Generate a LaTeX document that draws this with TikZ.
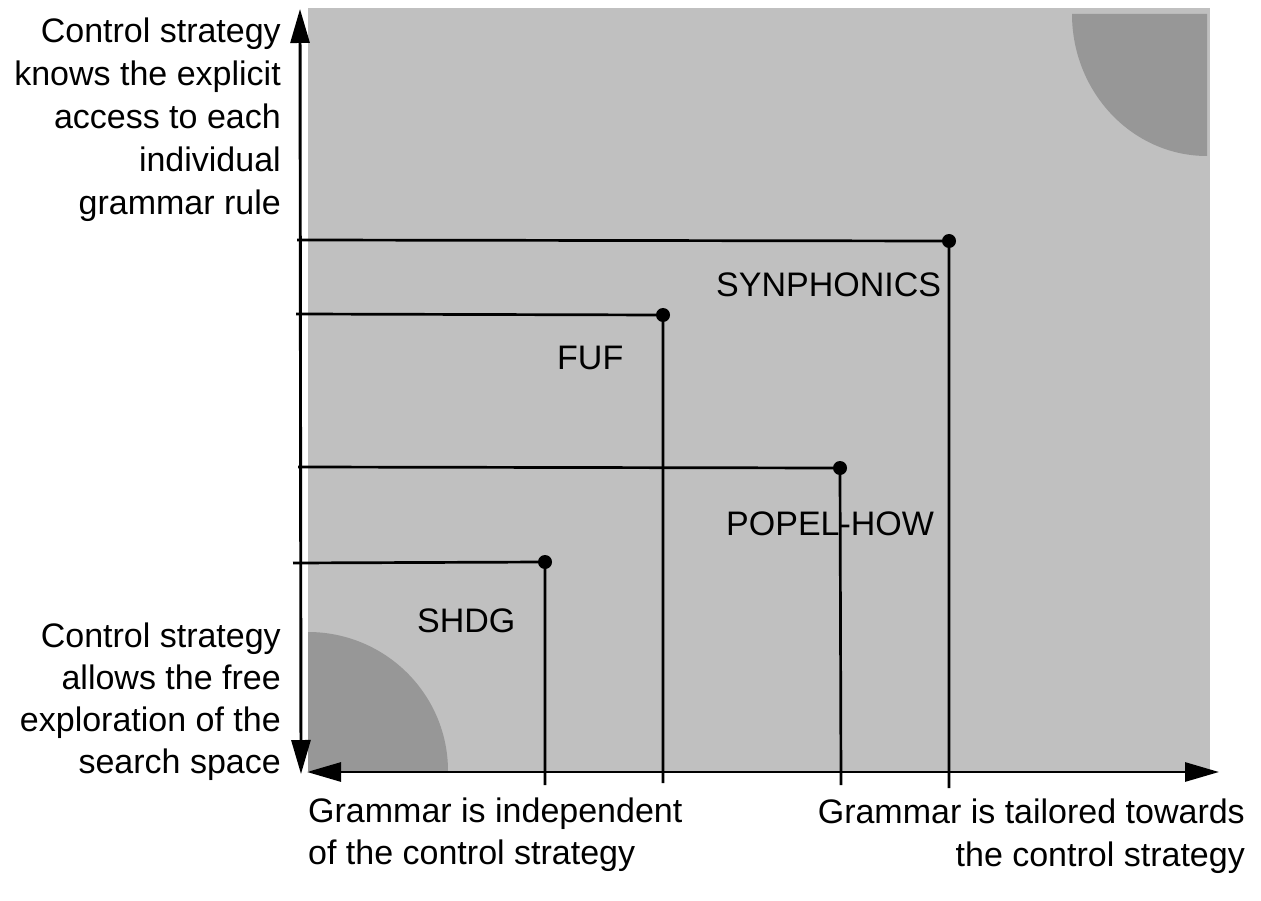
\documentclass[tikz,border=0pt]{standalone}
\usepackage{fontspec}
\setmainfont{Liberation Sans}
\usetikzlibrary{arrows.meta}
\definecolor{bglight}{RGB}{192,192,192}
\definecolor{bgdark}{RGB}{151,151,151}
\begin{document}
\begin{tikzpicture}[x=1pt,y=-1pt,
  axis/.style={line width=2.9pt},
  bothtips/.style={{Triangle[length=34pt,width=19pt]}-{Triangle[length=34pt,width=19pt]}},
  guide/.style={line width=2.7pt},
  dotmark/.style={circle,fill=black,inner sep=0pt,minimum size=14pt},
  lbl/.style={font=\fontsize{34}{43}\selectfont,inner sep=0pt},
  side/.style={font=\fontsize{34}{43}\selectfont,inner sep=0pt,align=right},
]
\useasboundingbox (0,0) rectangle (1261,901);
% background square
\fill[bglight] (308,8) rectangle (1210,771);
% dark quarter shapes
\fill[bgdark] (1207,14) -- (1072,14) arc[start angle=180,end angle=90,x radius=135,y radius=142] -- cycle;
\fill[bgdark] (308,771) -- (308,632) arc[start angle=270,end angle=360,x radius=140,y radius=139] -- cycle;

% axes
\coordinate (vtop) at (300,9);
\coordinate (vbot) at (301,774);
\coordinate (hleft) at (307,772);
\coordinate (hright) at (1219,772);
\draw[axis,bothtips] (vbot) -- (vtop);
\draw[axis,bothtips] (hleft) -- (hright);

% systems
\node[dotmark] (syn) at (949,241) {};
\node[dotmark] (fuf) at (663,315) {};
\node[dotmark] (pop) at (840,468) {};
\node[dotmark] (shd) at (545,562) {};

\coordinate (synL) at (297,240);
\coordinate (synB) at (949,788);
\coordinate (fufL) at (296,314);
\coordinate (fufB) at (663,783);
\coordinate (popL) at (298,467);
\coordinate (popB) at (841,785);
\coordinate (shdL) at (293,563);
\coordinate (shdB) at (545,785);

\draw[guide] (synL) -- (syn.center) -- (synB);
\draw[guide] (fufL) -- (fuf.center) -- (fufB);
\draw[guide] (popL) -- (pop.center) -- (popB);
\draw[guide] (shdL) -- (shd.center) -- (shdB);

% labels
\node[lbl,anchor=base west] (synT) at (716,297) {SYNPHONICS};
\node[lbl,anchor=base west] (fufT) at (557,369) {FUF};
\node[lbl,anchor=base west] (popT) at (726,535) {POPEL-HOW};
\node[lbl,anchor=base west] (shdT) at (417,632) {SHDG};

% axis texts (base anchor = last line's baseline)
\node[side,anchor=base east] (ytop) at (281,215) {Control strategy\\knows the explicit\\access to each\\individual\hspace{5pt}\\grammar rule};
\node[side,anchor=base east,font=\fontsize{34}{42}\selectfont] (ybot) at (281,773) {Control strategy\\allows the free\\exploration of the\\search space};
\node[lbl,anchor=base west,align=left,font=\fontsize{34}{42}\selectfont] (xleft) at (308,864) {Grammar is independent\\of the control strategy};
\node[side,anchor=base east] (xright) at (1245,866) {Grammar is tailored towards\\the control strategy};
\end{tikzpicture}
\end{document}
